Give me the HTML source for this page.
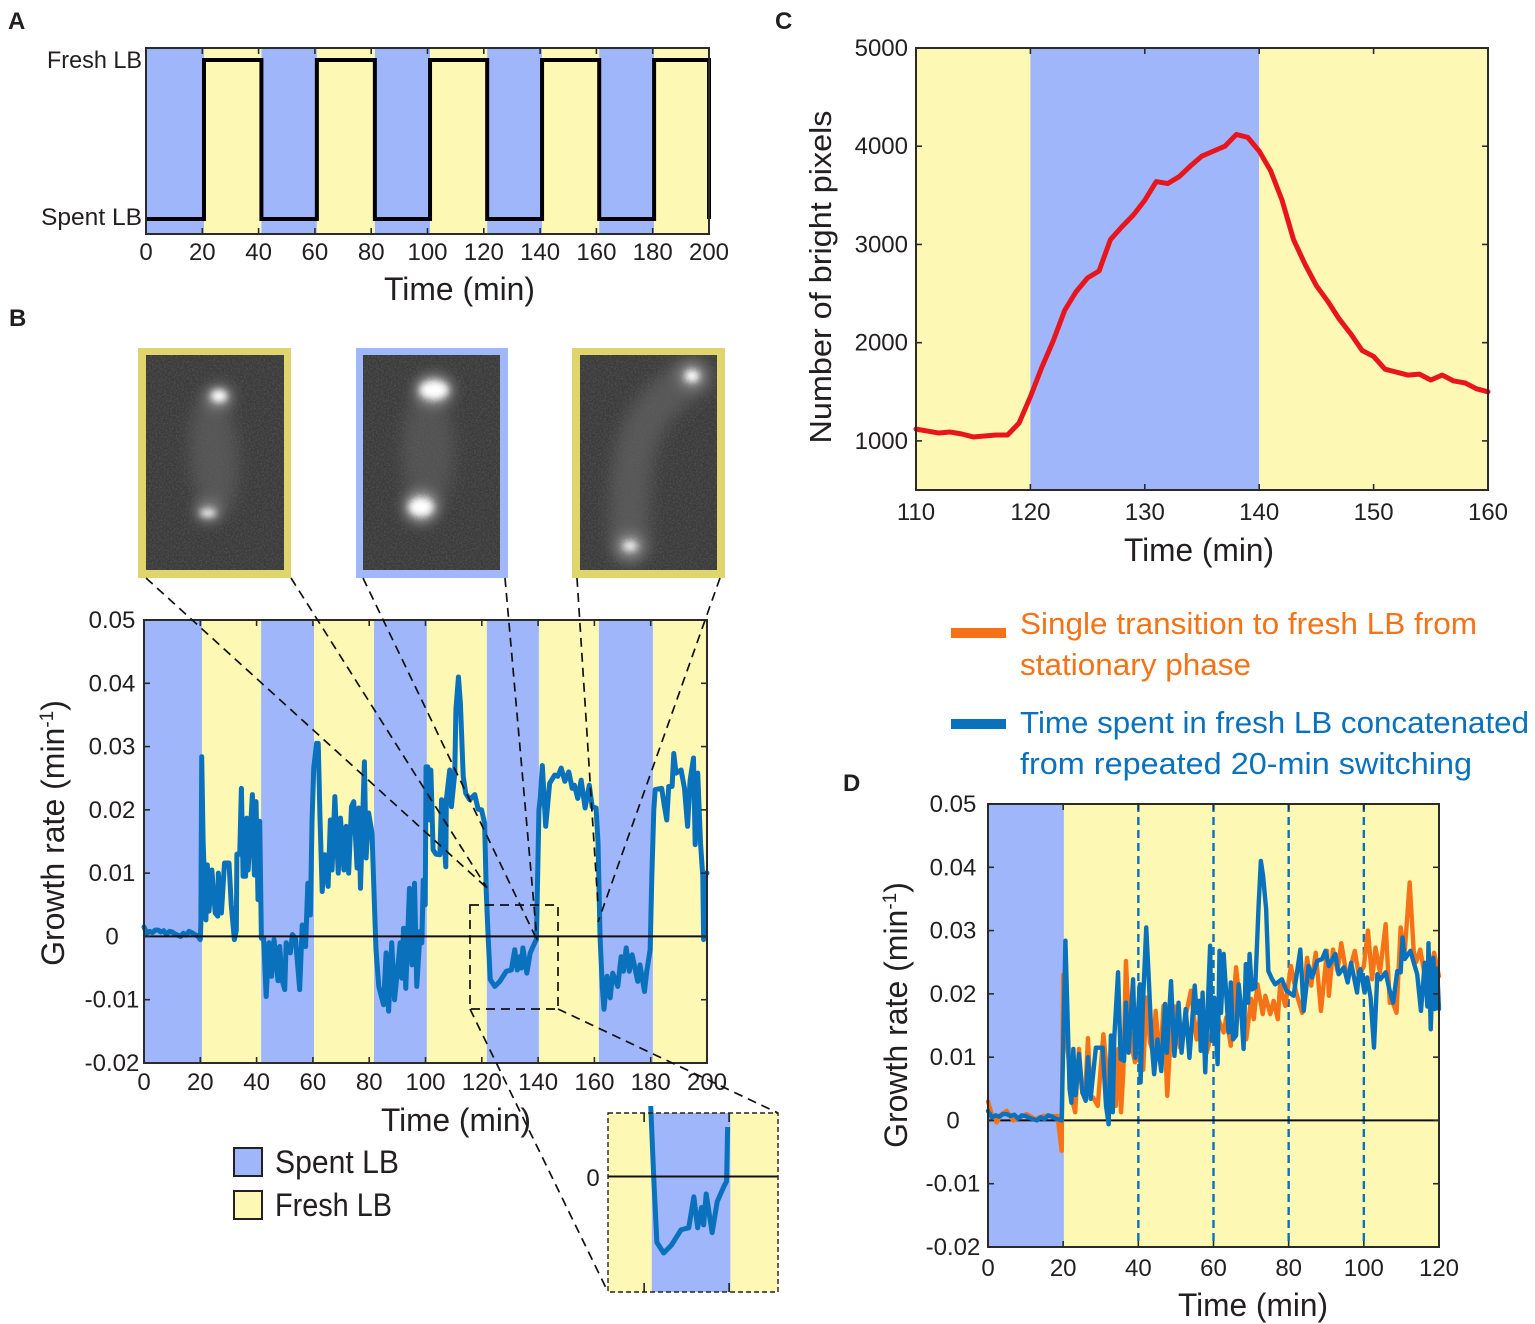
<!DOCTYPE html>
<html lang="en">
<head>
<meta charset="utf-8">
<title>Growth rate under fresh and spent LB switching</title>
<style>
html,body{margin:0;padding:0;background:#fff;}
svg{display:block;}
text{font-family:"Liberation Sans",sans-serif;fill:#231f20;}
</style>
</head>
<body>
<svg id="figure" xmlns="http://www.w3.org/2000/svg" width="1535" height="1324" viewBox="0 0 1535 1324">
<defs>
<filter id="blur-soft" x="-50%" y="-50%" width="200%" height="200%"><feGaussianBlur stdDeviation="8"/></filter>
<filter id="blur-spot" x="-80%" y="-80%" width="260%" height="260%"><feGaussianBlur stdDeviation="3.5"/></filter>
<filter id="blur-halo" x="-80%" y="-80%" width="260%" height="260%"><feGaussianBlur stdDeviation="7"/></filter>
<filter id="noise" x="0" y="0" width="100%" height="100%"><feTurbulence type="fractalNoise" baseFrequency="0.6" numOctaves="2" seed="4"/><feColorMatrix type="matrix" values="0 0 0 0 0.12  0 0 0 0 0.12  0 0 0 0 0.12  1.6 0 0 0 -0.55"/></filter>
<clipPath id="inset-clip"><polygon points="640,1106 720,1106 720,1127 745,1127 745,1292 640,1292"/></clipPath>
</defs>

<text x="8" y="29" font-size="24" font-weight="bold">A</text>
<text x="9" y="326" font-size="24" font-weight="bold">B</text>
<text x="775" y="29" font-size="24" font-weight="bold">C</text>
<text x="843" y="791" font-size="24" font-weight="bold">D</text>

<g id="panel-a"></g>
<text x="142" y="68" font-size="24" text-anchor="end" textLength="95" lengthAdjust="spacingAndGlyphs">Fresh LB</text>
<text x="142" y="225" font-size="24" text-anchor="end" textLength="101" lengthAdjust="spacingAndGlyphs">Spent LB</text>
<text x="384" y="300" font-size="32" textLength="151" lengthAdjust="spacingAndGlyphs">Time (min)</text>

<g>
  <rect x="138" y="348" width="153" height="230" fill="#e0d56c"/>
  <svg x="146" y="355" width="138" height="215">
    <rect width="138" height="215" fill="#3a3a3a"/>
    <ellipse cx="68" cy="100" rx="24" ry="62" fill="#7a7a7a" opacity="0.42" filter="url(#blur-soft)" transform="rotate(-4 68 100)"/>
    <ellipse cx="73" cy="42" rx="13" ry="11" fill="#a0a0a0" filter="url(#blur-halo)"/>
    <ellipse cx="62" cy="156" rx="12" ry="11" fill="#909090" filter="url(#blur-halo)"/>
    <rect width="138" height="215" filter="url(#noise)" opacity="0.75"/>
    <ellipse cx="73" cy="41" rx="8" ry="6" fill="#ffffff" filter="url(#blur-spot)"/>
    <ellipse cx="62" cy="158" rx="8" ry="4" fill="#f4f4f4" filter="url(#blur-spot)"/>
  </svg>
</g>
<g>
  <rect x="356" y="348" width="152" height="230" fill="#a0b8fa"/>
  <svg x="363" y="355" width="137" height="215">
    <rect width="137" height="215" fill="#3a3a3a"/>
    <ellipse cx="65" cy="95" rx="26" ry="62" fill="#7a7a7a" opacity="0.38" filter="url(#blur-soft)"/>
    <ellipse cx="71" cy="35" rx="18" ry="14" fill="#c0c0c0" filter="url(#blur-halo)"/>
    <ellipse cx="58" cy="152" rx="16" ry="15" fill="#c0c0c0" filter="url(#blur-halo)"/>
    <rect width="137" height="215" filter="url(#noise)" opacity="0.75"/>
    <ellipse cx="71" cy="35" rx="14" ry="9" fill="#ffffff" filter="url(#blur-spot)"/>
    <ellipse cx="58" cy="152" rx="12" ry="9" fill="#ffffff" filter="url(#blur-spot)"/>
  </svg>
</g>
<g>
  <rect x="572" y="348" width="153" height="230" fill="#e0d56c"/>
  <svg x="580" y="355" width="137" height="215">
    <rect width="137" height="215" fill="#3a3a3a"/>
    <path d="M50 190 C48 130 50 80 78 50 C90 38 100 28 112 22" fill="none" stroke="#7c7c7c" stroke-width="40" stroke-linecap="round" opacity="0.45" filter="url(#blur-soft)"/>
    <ellipse cx="112" cy="21" rx="13" ry="12" fill="#a0a0a0" filter="url(#blur-halo)"/>
    <ellipse cx="50" cy="191" rx="13" ry="12" fill="#a0a0a0" filter="url(#blur-halo)"/>
    <rect width="137" height="215" filter="url(#noise)" opacity="0.75"/>
    <ellipse cx="112" cy="21" rx="7" ry="6" fill="#ffffff" filter="url(#blur-spot)"/>
    <ellipse cx="50" cy="191" rx="7" ry="5" fill="#f2f2f2" filter="url(#blur-spot)"/>
  </svg>
</g>

<g id="panel-b"></g>

<g fill="none" stroke="#111" stroke-width="1.7" stroke-dasharray="9 6">
  <line x1="146" y1="578" x2="487" y2="888"/>
  <line x1="291" y1="578" x2="487" y2="888"/>
  <line x1="363" y1="578" x2="537" y2="940"/>
  <line x1="505" y1="578" x2="537" y2="940"/>
  <line x1="577" y1="578" x2="598" y2="905"/>
  <line x1="720" y1="578" x2="598" y2="922"/>
  <rect x="470" y="905" width="88" height="104"/>
  <line x1="470" y1="1009" x2="608" y2="1292"/>
  <line x1="558" y1="1009" x2="778" y2="1113"/>
</g>

<text transform="translate(64 833) rotate(-90)" font-size="32" text-anchor="middle">Growth rate (min<tspan font-size="19" dy="-11">-1</tspan><tspan dy="11">)</tspan></text>
<text x="381" y="1131" font-size="32" textLength="150" lengthAdjust="spacingAndGlyphs">Time (min)</text>

<g>
  <rect x="234" y="1148" width="28" height="28" fill="#9fb6fb" stroke="#222" stroke-width="2"/>
  <text x="275" y="1173" font-size="32" textLength="124" lengthAdjust="spacingAndGlyphs">Spent LB</text>
  <rect x="234" y="1191" width="28" height="28" fill="#fdf9b5" stroke="#222" stroke-width="2"/>
  <text x="275" y="1216" font-size="32" textLength="117" lengthAdjust="spacingAndGlyphs">Fresh LB</text>
</g>

<g id="panel-inset"></g>
<text x="593" y="1186" font-size="24" text-anchor="middle">0</text>

<g id="panel-c"></g>
<text transform="translate(831 277) rotate(-90)" font-size="31" text-anchor="middle" textLength="333" lengthAdjust="spacingAndGlyphs">Number of bright pixels</text>
<text x="1124" y="561" font-size="32" textLength="150" lengthAdjust="spacingAndGlyphs">Time (min)</text>

<g>
  <rect x="951" y="628" width="55" height="10" fill="#f57216"/>
  <text x="1020" y="634" font-size="31" textLength="457" lengthAdjust="spacingAndGlyphs" style="fill:#f57216">Single transition to fresh LB from</text>
  <text x="1020" y="675" font-size="31" textLength="231" lengthAdjust="spacingAndGlyphs" style="fill:#f57216">stationary phase</text>
  <rect x="951" y="719" width="55" height="10" fill="#0a71bd"/>
  <text x="1020" y="733" font-size="31" textLength="509" lengthAdjust="spacingAndGlyphs" style="fill:#0a71bd">Time spent in fresh LB concatenated</text>
  <text x="1020" y="774" font-size="31" textLength="452" lengthAdjust="spacingAndGlyphs" style="fill:#0a71bd">from repeated 20-min switching</text>
</g>

<g id="panel-d"></g>
<text transform="translate(907 1015) rotate(-90)" font-size="32" text-anchor="middle">Growth rate (min<tspan font-size="19" dy="-11">-1</tspan><tspan dy="11">)</tspan></text>
<text x="1178" y="1316" font-size="32" textLength="150" lengthAdjust="spacingAndGlyphs">Time (min)</text>
</svg>

<script>
/* ---------- Panel A data ---------- */
const aXTicks = [0, 20, 40, 60, 80, 100, 120, 140, 160, 180, 200];
const aSwitchTimes = [0, 20.6, 41, 60.7, 81.3, 100.9, 121.2, 140.7, 161, 180.5, 200];
const aLevels = ['spent', 'fresh'];

/* ---------- Panel B data (growth rate in 0.001 per min) ---------- */
const bXTicks = [0, 20, 40, 60, 80, 100, 120, 140, 160, 180, 200];
const bYTicks = [50, 40, 30, 20, 10, 0, -10, -20];
const growthTickLabels = ['0.05', '0.04', '0.03', '0.02', '0.01', '0', '-0.01', '-0.02'];
const bSwitchTimes = [0, 20.6, 41.6, 60.4, 81.7, 100.5, 121.8, 140.3, 161.6, 180.8, 200];
const bTimes = [
  0,1,2,3,4,5,6,7,8,9,
  10,11,12,13,14,15,16,17,18,19,
  20,20.2,20.5,21,22,22.5,23.1,24.1,25.3,26.2,
  26.4,27.5,28.6,30.2,31,32.1,32.8,33,34,34.6,
  35.2,36.1,36.5,37,38.5,39.2,39.8,40.5,41.1,41.7,
  42.5,43.4,44.4,45.3,46.2,47.6,48.2,49.1,50,50.5,
  52,52.7,53.8,55.3,56.2,57.4,58.2,59.1,59.7,60.3,
  61.3,61.9,62.5,63.3,64.2,65.4,66.2,66.8,67.8,69,
  69.8,71,71.8,72.7,73.7,74.5,75.7,76.3,76.9,78.3,
  78.9,79.8,81,81.6,82.4,83.4,85.1,86,86.9,88,
  89,91,91.6,92.2,93,94.3,95.2,96.1,96.9,98.1,
  98.7,99.2,99.9,100.2,100.8,101.5,101.9,102.7,103.7,105.1,
  105.7,107.2,107.4,108.6,109.2,110.4,110.8,111.7,112.4,113.4,
  114.3,115.7,117.5,118.7,119.9,121,121.6,122.3,123,124.6,
  126.4,128.7,130.5,131.7,132.6,133.5,134,134.6,136,137.2,
  138.8,139.4,140.3,140.8,141.5,142.7,144.1,145.9,147,148.2,
  149.5,150.9,152.1,152.9,154.1,155.3,156.7,158.2,159.2,160.6,
  161.3,162,162.8,163.4,164.5,165.6,166.5,168.3,169.5,170.3,
  171.3,172.4,173.4,175.4,176.2,177.8,178.6,179.8,180.4,181.1,
  181.6,183.9,184.9,185.7,186.4,187.6,188.2,189,190.8,192,
  193.1,194,195.2,195.8,196.7,197.7,198.5,198.8,199.5,200
];
const bGrowth = [
  1.5,.5,.8,.6,1,1,.7,.9,.3,.8,
  .7,.4,.2,0,.5,.2,.8,.6,.3,.1,
  -.5,2,28.4,15,2.6,11.3,4,10.5,3.7,3.2,
  10,3.7,11.6,11.6,5,-.5,1,13,13,23.4,
  9.5,9.5,18.7,10.5,22.4,9.7,21.3,5.8,18.2,-.3,
  -.3,-9.5,-1,-6.3,-.5,-7,-1.6,-7,-8.4,-1,
  -2.6,.3,-.3,-8.4,1.8,-1.6,8.4,3.4,18.4,26.6,
  30.5,30.5,19,7.1,12.9,7.9,18.4,10.5,22.1,10,
  18.7,10.5,17.4,10,20.5,21.3,10.8,20.3,7.6,27.6,
  12.4,19.5,16.3,8.4,-2,-7.9,-10.8,-2.6,-11.8,-1,
  -10,-1,-6.6,1.3,-8.2,7.6,-4.5,8.4,-7.9,.8,
  -1,8.9,5,26.8,26.8,18.4,26.3,13.7,13,12.9,
  21.6,11,21.6,26.3,20.5,25.8,35.8,41,36.8,25.3,
  22.6,21.6,22.4,20.1,20,17.9,6.8,-.5,-6.8,-7.9,
  -7.1,-5.5,-5.3,-2.1,-5.3,-3.2,-5,-1.8,-5.8,-2.6,
  -1,-.5,20,22,27,17.4,24.2,25.5,25.3,26.6,
  24.5,26,23.4,23.9,21.8,24.7,20.3,23.9,20.5,20.3,
  14.7,0,-7.9,-11.5,-6.3,-9.7,-5.8,-7.9,-3.2,-5.5,
  -1.8,-5.5,-2.9,-7.1,-4.5,-8.7,-5.5,-2.1,9.5,20,
  23.2,23.4,20.5,18.4,23.7,23.7,28.9,25.8,26.3,23.4,
  17.4,24.7,28.2,14.5,25.8,14.7,9.5,-.5,10,10
];

/* ---------- Panel C data ---------- */
const cXTicks = [110, 120, 130, 140, 150, 160];
const cYTicks = [1000, 2000, 3000, 4000, 5000];
const cSwitchTimes = [110, 120, 140, 160];
const cTimes = [
  110,111,112,113,114,115,116,117,118,119,
  120,121,122,123,124,125,126,127,128,129,
  130,131,132,133,134,135,136,137,138,139,
  140,141,142,143,144,145,146,147,148,149,
  150,151,152,153,154,155,156,157,158,159,160
];
const cBrightPixels = [
  1120,1100,1080,1090,1070,1040,1050,1060,1060,1180,
  1450,1750,2020,2330,2520,2660,2730,3050,3180,3300,
  3450,3640,3620,3690,3800,3900,3950,4000,4120,4090,
  3950,3750,3450,3050,2800,2580,2420,2240,2090,1920,
  1860,1730,1700,1670,1680,1620,1670,1610,1590,1530,1500
];

/* ---------- Panel D data ---------- */
const dXTicks = [0, 20, 40, 60, 80, 100, 120];
const dYTicks = [50, 40, 30, 20, 10, 0, -10, -20];
const dSwitchTimes = [0, 20.2, 120];
const dDashedTimes = [40, 60, 80, 100];
const dOrangeTimes = [
  0,1,2.3,3.6,5,6.7,8.5,10.3,12.5,14.7,
  17,18.5,19.6,20,20.5,21.4,22.3,23.2,24.2,25,
  25.8,26.6,27.3,28,29.2,30.7,31.6,32.9,34,34.7,
  35.4,36,36.7,37.4,38.2,39.1,40.3,41.3,42.2,43.1,
  44,44.6,45.8,46.7,47.7,48.4,49.8,51.1,52.4,54,
  55.5,56.9,58.2,60,61.3,62.7,63.4,64.6,66,67.1,
  68.7,70,70.7,71.7,73.1,73.8,75.1,76,77.1,77.7,
  79.1,80.6,82,83.6,84.9,86,87.2,88.6,90.2,90.7,
  91.8,93,94,95.6,97.6,98.7,100,101.1,102.2,103.1,
  104.3,105.8,106.9,107.7,108.7,109.8,110.8,112.2,113.3,113.9,
  115,116.8,118.7,120
];
const dOrangeGrowth = [
  3,1,-.3,1,1.5,0,.5,1,.2,.7,
  .7,.7,-4.8,23,15,10,3.4,1.3,11.3,5,
  3.4,13,3.9,3.6,2.3,13.6,8,2.3,2.3,11.3,
  1.3,7.5,25.2,17,11.8,9.2,10.2,8,19.4,12.3,
  10.7,17.3,9.2,18.1,3.9,11.3,18,11.5,16,20.5,
  12.8,18.1,10.7,15,16,13.9,16.3,11.8,24.2,18,
  12.8,19.2,16,21.5,16.8,19.7,16.8,18.9,16,21.3,
  18.1,24.4,20.2,17,25.7,21.3,26.5,17.3,26.8,19.7,
  27,23.6,28,22.3,26.8,22.8,24.4,30,22.3,27.3,
  23.4,31,18.6,18.6,17,30.5,26,37.6,26.5,25,
  27,21,26.5,22.8
];
const dBlueTimes = [
  0,1,2,3,4,5,6,7,8,9,
  10,11,12,13,14,15,16,17,18,19,
  19.6,20.6,21.1,21.7,22.2,22.7,23.3,24.2,25.1,26,
  26.6,27.3,28.7,30.5,31.4,32.1,32.7,33.2,33.6,34.6,
  35.3,36.2,36.7,37.4,38.6,39.2,39.6,40.4,40.6,41.2,
  42.1,42.7,43.6,44.2,45.1,46.1,47.1,47.6,48.7,49.6,
  50.7,51.5,52.6,53.6,55,55.5,56.2,56.6,57.1,57.8,
  59.1,59.5,60.2,61.1,61.6,62,62.7,63.6,64,64.6,
  65.2,66,66.7,67.3,68,68.6,69.2,69.6,70.2,71.1,
  72,72.6,73.2,74,74.6,75.6,76.4,78.2,79.4,81.3,
  83.1,84,85.3,86.2,87.6,88.9,89.8,90.7,92.4,93.3,
  94.7,95.7,96.6,98.2,98.7,99.1,100.2,100.9,101.8,102.7,
  103.6,104.4,105.8,106.8,107.8,108.9,109.8,110.3,110.9,112.4,
  113.3,114.2,115.2,116.2,116.9,117.2,117.8,118.5,118.9,119.5,
  120
];
const dBlueGrowth = [
  1.5,.5,.8,.6,1,1,.7,.9,.3,.8,
  .7,.4,.2,0,.5,.2,.8,.6,.3,.1,
  0,28.4,18,5,2.8,11.3,4,10.5,4.4,3.1,
  10,3.4,11.5,11.5,2.3,-.6,13.4,1.3,13.1,23.4,
  9.7,9.4,18.6,10.7,22.3,9.9,14,21.5,6,18,
  30.5,23.4,11.8,7.3,12.8,7.8,18.4,10.7,22,10.2,
  18.6,10.7,17.6,9.9,21.3,17,18.9,11,20.2,7.6,
  27.6,12.6,19.4,8.9,26.8,17,26.3,18,13.9,21.8,
  12.8,13.4,21.5,18,11.3,24.7,18.6,26.3,20.7,21,
  33.9,41,38.6,33.4,23.6,22.3,21.5,22.3,20.5,19.7,
  27,17.3,24.4,22.6,25.2,25.5,26.8,24.4,26.3,23.1,
  24.2,21.8,24.9,20.2,23.4,23.9,20.2,22.6,19.4,11.5,
  23.1,22.3,23.4,20.7,18.6,23.6,23.4,28.9,25.5,26.8,
  24.9,23.1,17.3,24.9,18,28,14.4,25.7,17.6,24,
  17.6
];

/* ---------- Inset data ---------- */
const insetTicks = [120, 140];

/* ---------- Drawing helpers ---------- */
const SVG_NS = 'http://www.w3.org/2000/svg';
const BLUE_BAND = '#9fb6fb';
const YELLOW_BAND = '#fdf9b5';
const AXIS_COLOR = '#2b2b2b';

function make(tag, attrs, parent) {
  const node = document.createElementNS(SVG_NS, tag);
  for (const key in attrs) node.setAttribute(key, attrs[key]);
  parent.appendChild(node);
  return node;
}
function linearScale(d0, d1, r0, r1) {
  return function (v) { return r0 + (v - d0) * (r1 - r0) / (d1 - d0); };
}
function drawBands(parent, edges, x, box, firstColor, secondColor) {
  for (let i = 0; i < edges.length - 1; i++) {
    const band = make('rect', {
      x: x(edges[i]), y: box.top,
      width: x(edges[i + 1]) - x(edges[i]), height: box.bottom - box.top,
      fill: i % 2 === 0 ? firstColor : secondColor
    }, parent);
    
    
  }
}
function drawSeries(parent, times, values, x, y, color, width, name) {
  let d = '';
  const n = Math.min(times.length, values.length);
  for (let i = 0; i < n; i++) {
    d += (i ? 'L' : 'M') + x(times[i]).toFixed(2) + ' ' + y(values[i]).toFixed(2);
  }
  const path = make('path', {
    d: d, fill: 'none', stroke: color, 'stroke-width': width,
    'stroke-linejoin': 'round', 'stroke-linecap': 'round'
  }, parent);
  
  
  return path;
}
function drawFrame(parent, box) {
  const frame = make('rect', {
    x: box.left, y: box.top, width: box.right - box.left, height: box.bottom - box.top,
    fill: 'none', stroke: AXIS_COLOR, 'stroke-width': 2
  }, parent);
  
  
}
function drawXTicks(parent, ticks, x, box, labelY) {
  ticks.forEach(function (value) {
    const bottomTick = make('line', {
      x1: x(value), x2: x(value), y1: box.bottom, y2: box.bottom - 6,
      stroke: AXIS_COLOR, 'stroke-width': 1.6
    }, parent);
    
    
    const topTick = make('line', {
      x1: x(value), x2: x(value), y1: box.top, y2: box.top + 6,
      stroke: AXIS_COLOR, 'stroke-width': 1.6
    }, parent);
    
    
    const label = make('text', { x: x(value), y: labelY, 'font-size': 24, 'text-anchor': 'middle' }, parent);
    label.textContent = String(value);
    
    
  });
}
function drawYTicks(parent, ticks, labels, y, box, labelX, anchor) {
  ticks.forEach(function (value, i) {
    const leftTick = make('line', {
      x1: box.left, x2: box.left + 6, y1: y(value), y2: y(value),
      stroke: AXIS_COLOR, 'stroke-width': 1.6
    }, parent);
    
    
    const rightTick = make('line', {
      x1: box.right, x2: box.right - 6, y1: y(value), y2: y(value),
      stroke: AXIS_COLOR, 'stroke-width': 1.6
    }, parent);
    
    
    const label = make('text', { x: labelX, y: y(value) + 8, 'font-size': 24, 'text-anchor': anchor }, parent);
    label.textContent = labels[i];
    
    
  });
}
function drawZeroLine(parent, box, y) {
  const zero = make('line', {
    x1: box.left, x2: box.right, y1: y(0), y2: y(0), stroke: '#111', 'stroke-width': 2
  }, parent);
  
  
}

/* ---------- Panel A ---------- */
(function () {
  const g = document.getElementById('panel-a');
  const box = { left: 146, right: 709, top: 48, bottom: 234 };
  const x = linearScale(0, 200, box.left, box.right);
  const levelY = function (level) { return level === aLevels[1] ? 60 : 219; };
  drawBands(g, aSwitchTimes, x, box, BLUE_BAND, YELLOW_BAND);
  let d = '';
  for (let i = 0; i < aSwitchTimes.length - 1; i++) {
    const yy = levelY(aLevels[i % 2]);
    d += (i ? 'L' : 'M') + x(aSwitchTimes[i]) + ' ' + yy + 'L' + x(aSwitchTimes[i + 1]) + ' ' + yy;
  }
  d += 'L' + x(aSwitchTimes[aSwitchTimes.length - 1]) + ' ' + levelY(aLevels[0]);
  const step = make('path', { d: d, fill: 'none', stroke: '#000', 'stroke-width': 4, 'stroke-linejoin': 'miter' }, g);
  
  
  drawFrame(g, box);
  drawXTicks(g, aXTicks, x, box, 260);
})();

/* ---------- Panel B ---------- */
(function () {
  const g = document.getElementById('panel-b');
  const box = { left: 144, right: 707, top: 620, bottom: 1063 };
  const x = linearScale(0, 200, box.left, box.right);
  const y = linearScale(-20, 50, box.bottom, box.top);
  drawBands(g, bSwitchTimes, x, box, BLUE_BAND, YELLOW_BAND);
  drawSeries(g, bTimes, bGrowth, x, y, '#0a71bd', 5, 'growth-rate-line');
  drawZeroLine(g, box, y);
  drawFrame(g, box);
  drawXTicks(g, bXTicks, x, box, 1090);
  drawYTicks(g, bYTicks, growthTickLabels, y, box, 112, 'middle');
})();

/* ---------- Inset of panel B ---------- */
(function () {
  const g = document.getElementById('panel-inset');
  const box = { left: 608, right: 778, top: 1113, bottom: 1292 };
  const x = linearScale(111.5, 151.5, box.left, box.right);
  const y = linearScale(0, -7.9, 1176.5, 1253);
  drawBands(g, [111.5, 121.8, 140.3, 151.5], x, box, YELLOW_BAND, BLUE_BAND);
  const clipped = make('g', { 'clip-path': 'url(#inset-clip)' }, g);
  
  
  const times = bTimes.filter(function (t) { return t >= 121 && t <= 141; });
  const values = bGrowth.filter(function (v, i) { return bTimes[i] >= 121 && bTimes[i] <= 141; });
  drawSeries(clipped, times, values, x, y, '#0a71bd', 5, 'inset-growth-rate-line');
  drawZeroLine(g, box, y);
  insetTicks.forEach(function (value) {
    const top = make('line', { x1: x(value), x2: x(value), y1: box.top, y2: box.top + 9, stroke: '#222', 'stroke-width': 1.6 }, g);
    
    
    const bottom = make('line', { x1: x(value), x2: x(value), y1: box.bottom, y2: box.bottom - 9, stroke: '#222', 'stroke-width': 1.6 }, g);
    
    
  });
  const frame = make('rect', {
    x: box.left, y: box.top, width: box.right - box.left, height: box.bottom - box.top,
    fill: 'none', stroke: '#222', 'stroke-width': 1.4, 'stroke-dasharray': '5 3'
  }, g);
  
  
})();

/* ---------- Panel C ---------- */
(function () {
  const g = document.getElementById('panel-c');
  const box = { left: 916, right: 1488, top: 48, bottom: 490 };
  const x = linearScale(110, 160, box.left, box.right);
  const y = linearScale(500, 5000, box.bottom, box.top);
  drawBands(g, cSwitchTimes, x, box, YELLOW_BAND, BLUE_BAND);
  drawSeries(g, cTimes, cBrightPixels, x, y, '#e8161c', 5, 'bright-pixels-line');
  drawFrame(g, box);
  drawXTicks(g, cXTicks, x, box, 520);
  drawYTicks(g, cYTicks, cYTicks.map(String), y, box, 908, 'end');
})();

/* ---------- Panel D ---------- */
(function () {
  const g = document.getElementById('panel-d');
  const box = { left: 988, right: 1439, top: 804, bottom: 1247 };
  const x = linearScale(0, 120, box.left, box.right);
  const y = linearScale(-20, 50, box.bottom, box.top);
  drawBands(g, dSwitchTimes, x, box, BLUE_BAND, YELLOW_BAND);
  dDashedTimes.forEach(function (t) {
    const dash = make('line', {
      x1: x(t), x2: x(t), y1: box.top, y2: box.bottom,
      stroke: '#0a71bd', 'stroke-width': 2.4, 'stroke-dasharray': '8 5'
    }, g);
    
    
  });
  drawZeroLine(g, box, y);
  drawSeries(g, dOrangeTimes, dOrangeGrowth, x, y, '#f57216', 4.4, 'single-transition-line');
  drawSeries(g, dBlueTimes, dBlueGrowth, x, y, '#0a71bd', 4.4, 'concatenated-line');
  drawFrame(g, box);
  drawXTicks(g, dXTicks, x, box, 1276);
  drawYTicks(g, dYTicks, growthTickLabels, y, box, 953, 'middle');
})();
</script>
</body>
</html>
